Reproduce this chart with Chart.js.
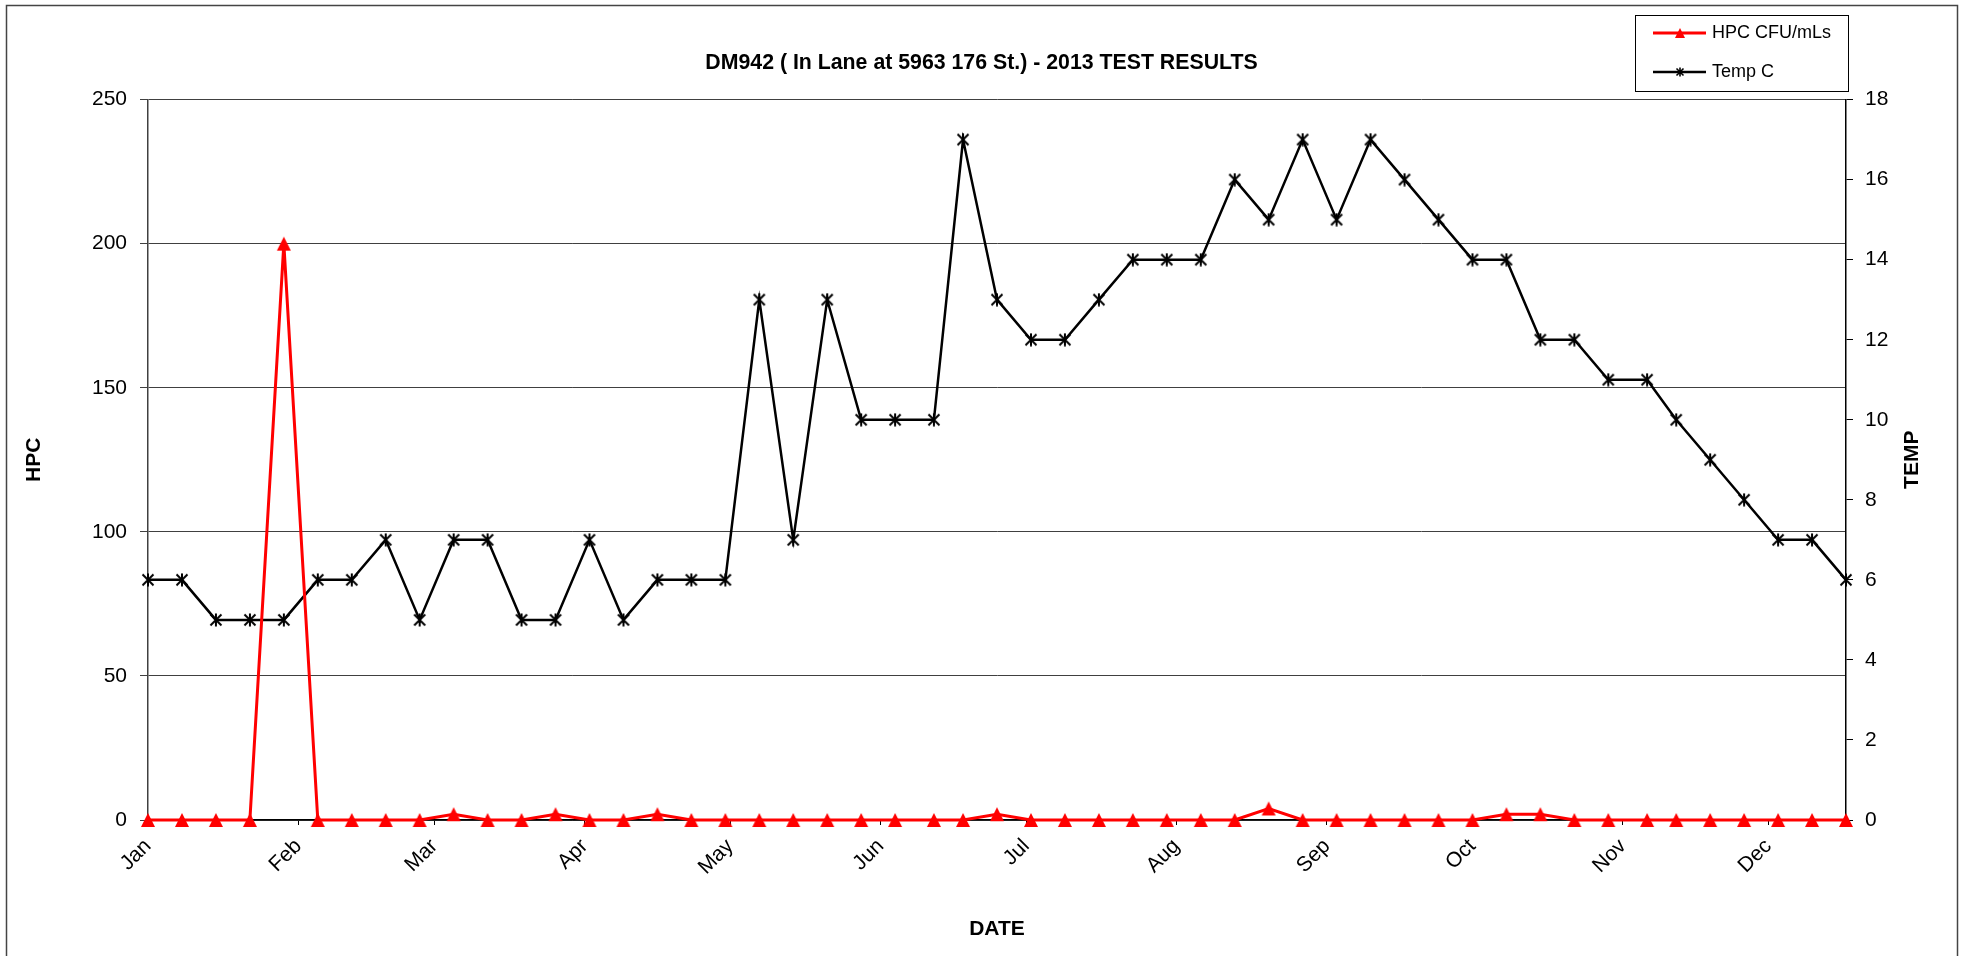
<!DOCTYPE html>
<html>
<head>
<meta charset="utf-8">
<script src="https://cdn.jsdelivr.net/npm/chart.js@4.4.1/dist/chart.umd.min.js"></script>
<style>
  html, body { margin: 0; padding: 0; background: #fff; }
  canvas { display: block; }
</style>
</head>
<body>
<canvas id="chartDM942" width="1963" height="956"></canvas>
<script>
// ── DM942 2013 test results ───────────────────────

// sample dates as day of year (0 = Jan 1 2013)
const sampleDays = [
  0, 7, 14, 21, 28, 35, 42, 49, 56, 63, 70, 77, 84,
  91, 98, 105, 112, 119, 126, 133, 140, 147, 154, 162, 168, 175,
  182, 189, 196, 203, 210, 217, 224, 231, 238, 245, 252, 259,
  266, 273, 280, 287, 294, 301, 309, 315, 322, 329, 336, 343, 350,
];

const hpcValues = [
  0, 0, 0, 0, 200, 0, 0, 0, 0, 2, 0, 0, 2,
  0, 0, 2, 0, 0, 0, 0, 0, 0, 0, 0, 0, 2,
  0, 0, 0, 0, 0, 0, 0, 4, 0, 0, 0, 0,
  0, 0, 2, 2, 0, 0, 0, 0, 0, 0, 0, 0, 0,
];

const tempValues = [
  6, 6, 5, 5, 5, 6, 6, 7, 5, 7, 7, 5, 5,
  7, 5, 6, 6, 6, 13, 7, 13, 10, 10, 10, 17, 13,
  12, 12, 13, 14, 14, 14, 16, 15, 17, 15, 17, 16,
  15, 14, 14, 12, 12, 11, 11, 10, 9, 8, 7, 7, 6,
];

const monthStarts = [0, 31, 59, 90, 120, 151, 181, 212, 243, 273, 304, 334];
const monthLabels = ["Jan", "Feb", "Mar", "Apr", "May", "Jun", "Jul", "Aug", "Sep", "Oct", "Nov", "Dec"];

const FONT = "'Liberation Sans', Arial, Helvetica, sans-serif";
Chart.defaults.font.family = FONT;
Chart.defaults.color = "#000";

const toPoints = (vals) => sampleDays.map((d, i) => ({ x: d, y: vals[i] }));

// Excel-like markers: a triangle centred on the point, and an asterisk (X + vertical bar)
function triangleMarker(size, color) {
  const c = document.createElement("canvas");
  c.width = size + 2;
  c.height = size + 2;
  const g = c.getContext("2d");
  g.fillStyle = color;
  g.beginPath();
  g.moveTo(c.width / 2, 1);
  g.lineTo(c.width - 1, c.height - 1);
  g.lineTo(1, c.height - 1);
  g.closePath();
  g.fill();
  return c;
}

function starMarker(size, color, lw) {
  const c = document.createElement("canvas");
  c.width = size + 2;
  c.height = size + 2;
  const g = c.getContext("2d");
  g.strokeStyle = color;
  g.lineWidth = lw;
  const m = 1.5, e = c.width - 1.5, mid = c.width / 2;
  g.beginPath();
  g.moveTo(m, m); g.lineTo(e, e);
  g.moveTo(e, m); g.lineTo(m, e);
  g.moveTo(mid, 0.5); g.lineTo(mid, c.height - 0.5);
  g.stroke();
  return c;
}

const triBig = triangleMarker(14, "#ff0000");
const triSmall = triangleMarker(10, "#ff0000");
const starBig = starMarker(12, "#000", 2);
const starSmall = starMarker(8, "#000", 1.6);

// outer frame, legend box and right axis title
const extras = {
  id: "extras",
  afterDraw(chart) {
    const ctx = chart.ctx;
    ctx.save();
    ctx.strokeStyle = "#444";
    ctx.lineWidth = 1.5;
    ctx.strokeRect(6.5, 5.5, 1951, 1100);

    // legend
    const bx = 1635, by = 15, bw = 213, bh = 76;
    ctx.fillStyle = "#fff";
    ctx.fillRect(bx, by, bw, bh);
    ctx.strokeStyle = "#000";
    ctx.lineWidth = 1;
    ctx.strokeRect(bx + 0.5, by + 0.5, bw, bh);
    const rows = [33, 72];
    const icons = [triSmall, starSmall];
    chart.data.datasets.forEach((ds, i) => {
      const y = rows[i];
      ctx.strokeStyle = ds.borderColor;
      ctx.lineWidth = ds.borderWidth;
      ctx.beginPath();
      ctx.moveTo(1653, y);
      ctx.lineTo(1706, y);
      ctx.stroke();
      const ic = icons[i];
      ctx.drawImage(ic, 1680 - ic.width / 2, y - ic.height / 2);
      ctx.fillStyle = "#000";
      ctx.font = "18px " + FONT;
      ctx.textAlign = "left";
      ctx.textBaseline = "middle";
      ctx.fillText(ds.label, 1712, y);
    });

    // right axis title, reads bottom to top
    const area = chart.chartArea;
    ctx.translate(1912, (area.top + area.bottom) / 2);
    ctx.rotate(-Math.PI / 2);
    ctx.font = "bold 21px " + FONT;
    ctx.textAlign = "center";
    ctx.textBaseline = "middle";
    ctx.fillText("TEMP", 0, 0);
    ctx.restore();
  },
};

new Chart(document.getElementById("chartDM942"), {
  type: "line",
  data: {
    datasets: [
      {
        label: "HPC CFU/mLs",
        data: toPoints(hpcValues),
        yAxisID: "y",
        borderColor: "#ff0000",
        backgroundColor: "#ff0000",
        borderWidth: 3,
        pointStyle: triBig,
        pointRadius: 8,
        clip: false,
        tension: 0,
      },
      {
        label: "Temp C",
        data: toPoints(tempValues),
        yAxisID: "y1",
        borderColor: "#000",
        backgroundColor: "#000",
        borderWidth: 2.5,
        pointStyle: starBig,
        pointRadius: 7,
        clip: false,
        tension: 0,
      },
    ],
  },
  options: {
    responsive: false,
    animation: false,
    layout: { padding: 0 },
    plugins: {
      legend: { display: false },
      tooltip: { enabled: false },
      title: {
        display: true,
        text: "DM942 ( In Lane at 5963 176 St.) - 2013 TEST RESULTS",
        font: { size: 21.3, weight: "bold" },
        color: "#000",
        padding: { top: 50, bottom: 24 },
      },
    },
    scales: {
      x: {
        type: "linear",
        min: 0,
        max: 350,
        afterFit: (scale) => { scale.height = 136; },
        afterBuildTicks: (scale) => {
          scale.ticks = monthStarts.map((v) => ({ value: v }));
        },
        ticks: {
          autoSkip: false,
          maxRotation: 45,
          minRotation: 45,
          padding: 9,
          font: { size: 21 },
          callback: (v) => monthLabels[monthStarts.indexOf(v)] || "",
        },
        grid: { drawOnChartArea: false, tickLength: 5, color: "#000" },
        border: { color: "#000", width: 1.5 },
        title: {
          display: true,
          text: "DATE",
          font: { size: 21, weight: "bold" },
          padding: { top: 0, bottom: 14 },
        },
      },
      y: {
        position: "left",
        min: 0,
        max: 250,
        afterFit: (scale) => { scale.width = 148; },
        ticks: { stepSize: 50, padding: 13, font: { size: 21 } },
        grid: { color: "#404040", lineWidth: 1, tickLength: 8 },
        border: { color: "#404040", width: 1.5 },
        title: {
          display: true,
          text: "HPC",
          font: { size: 21, weight: "bold" },
          padding: { top: 22, bottom: 0 },
        },
      },
      y1: {
        position: "right",
        min: 0,
        max: 18,
        afterFit: (scale) => { scale.width = 117; },
        ticks: { stepSize: 2, padding: 12, font: { size: 21 } },
        grid: { drawOnChartArea: false, tickLength: 7, color: "#000" },
        border: { color: "#000", width: 1.5 },
      },
    },
  },
  plugins: [extras],
});
</script>
</body>
</html>
